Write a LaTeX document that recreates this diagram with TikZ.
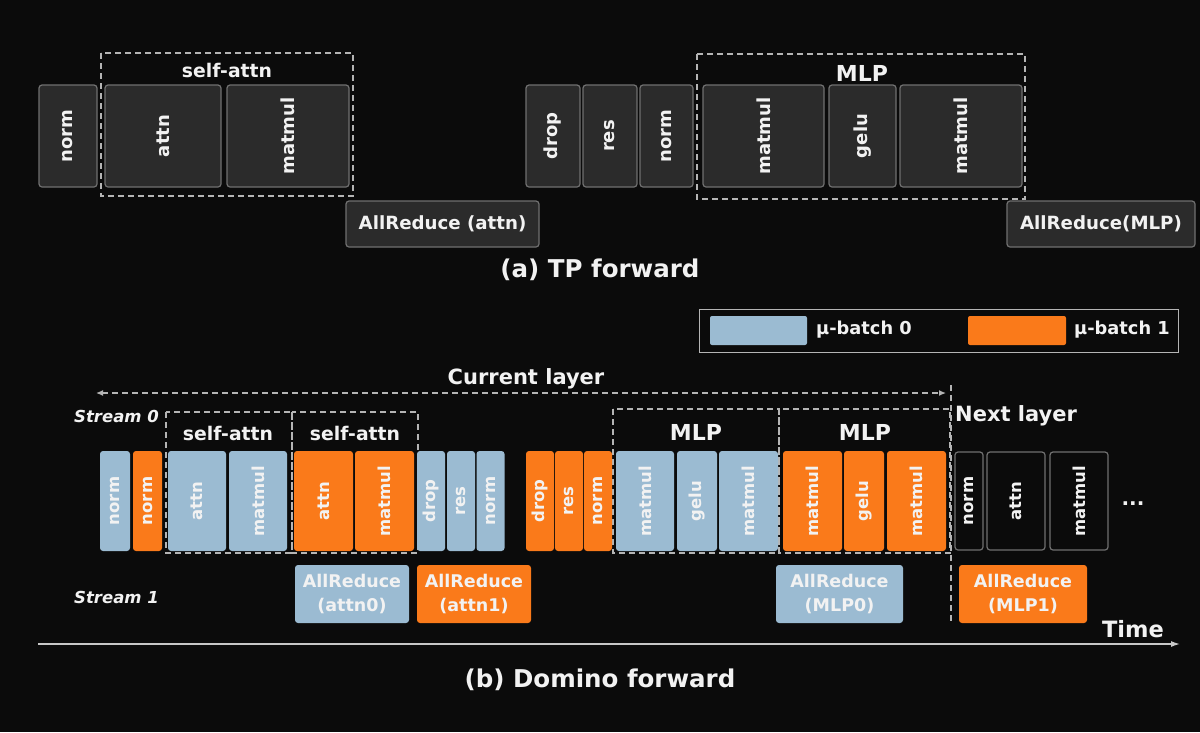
\documentclass[tikz,border=0pt]{standalone}
\usepackage{fontspec}
\setmainfont{DejaVu Sans}
\usetikzlibrary{arrows.meta}
\definecolor{bg}{HTML}{0B0B0B}
\definecolor{boxfill}{HTML}{2B2B2B}
\definecolor{boxline}{HTML}{707070}
\definecolor{mbblue}{RGB}{155,187,210}
\definecolor{mborange}{RGB}{250,122,26}
\definecolor{txt}{HTML}{F2F2F2}
\definecolor{dashc}{HTML}{B5B5B5}
\definecolor{axisc}{HTML}{C8C8C8}

\begin{document}
\begin{tikzpicture}[x=1pt,y=-1pt,
  every node/.style={text=txt},
  op/.style={rounded corners=3pt, inner sep=0pt, rotate=90},
  tpop/.style={op, draw=boxline, fill=boxfill, line width=1.2pt, font=\fontsize{18}{20}\selectfont\bfseries},
  bop/.style={op, fill=mbblue, font=\fontsize{16.5}{18}\selectfont\bfseries},
  oop/.style={op, fill=mborange, font=\fontsize{16.5}{18}\selectfont\bfseries},
  nop/.style={op, draw=boxline, fill=bg, line width=1.2pt, font=\fontsize{16.5}{18}\selectfont\bfseries},
  ar/.style={rounded corners=3pt, inner sep=0pt, align=center, font=\fontsize{17.5}{24}\selectfont\bfseries},
  tpar/.style={ar, draw=boxline, fill=boxfill, line width=1.2pt, font=\fontsize{18.2}{24}\selectfont\bfseries},
  grp/.style={font=\fontsize{18.8}{20}\selectfont\bfseries},
  grpbig/.style={font=\fontsize{22}{24}\selectfont\bfseries},
  title/.style={font=\fontsize{24.5}{26}\selectfont\bfseries},
  stream/.style={anchor=west, inner sep=0pt, font=\fontsize{16.5}{18}\selectfont\bfseries\itshape},
  dbox/.style={draw=dashc, dash pattern=on 6pt off 4pt, line width=1.3pt}]
\fill[bg] (0,0) rectangle (1200,732);
% (a) TP forward
\draw[dbox] (101,53) rectangle (353,196);
\draw[dbox] (697,54) rectangle (1025,199);
\node[grp] (tsa) at (227,70) {self-attn};
\node[grpbig] (tmlp) at (862,73) {MLP};
\node[tpop, minimum width=102pt, minimum height=58pt] (tnorm) at (68,136) {norm};
\node[tpop, minimum width=102pt, minimum height=116pt] (tattn) at (163,136) {attn};
\node[tpop, minimum width=102pt, minimum height=122pt] (tmm) at (288,136) {matmul};
\node[tpop, minimum width=102pt, minimum height=54pt] (tdrop) at (553,136) {drop};
\node[tpop, minimum width=102pt, minimum height=54pt] (tres) at (610,136) {res};
\node[tpop, minimum width=102pt, minimum height=53pt] (tnormb) at (666.5,136) {norm};
\node[tpop, minimum width=102pt, minimum height=121pt] (tmma) at (763.5,136) {matmul};
\node[tpop, minimum width=102pt, minimum height=67pt] (tgelu) at (862.5,136) {gelu};
\node[tpop, minimum width=102pt, minimum height=122pt] (tmmb) at (961,136) {matmul};
\node[tpar, minimum width=193pt, minimum height=46pt] (tarattn) at (442.5,224) {AllReduce (attn)};
\node[tpar, minimum width=188pt, minimum height=46pt] (tarmlp) at (1101,224) {AllReduce(MLP)};
\node[title] (tpcap) at (600,270) {(a) TP forward};
% legend
\node[draw=dashc, line width=1pt, minimum width=479pt, minimum height=43pt, inner sep=0pt] (legend) at (938.5,330.5) {};
\node[fill=mbblue, rounded corners=2pt, minimum width=97pt, minimum height=29pt, inner sep=0pt] (sw0) at (758.5,330.5) {};
\node[fill=mborange, rounded corners=2pt, minimum width=98pt, minimum height=29pt, inner sep=0pt] (sw1) at (1017,330.5) {};
\node[anchor=west, inner sep=0pt, font=\fontsize{17.8}{20}\selectfont\bfseries] (lb0) at (816,330) {μ-batch 0};
\node[anchor=west, inner sep=0pt, font=\fontsize{17.8}{20}\selectfont\bfseries] (lb1) at (1074,330) {μ-batch 1};
% (b) Domino forward
\coordinate (cl0) at (96,393);
\coordinate (cl1) at (946,393);
\draw[dbox, {Latex[length=7pt,width=6pt]}-{Latex[length=7pt,width=6pt]}] (cl0) -- (cl1);
\node[font=\fontsize{21}{22}\selectfont\bfseries] (cur) at (526,379) {Current layer};
\coordinate (nl0) at (951,385);
\coordinate (nl1) at (951,624);
\draw[dbox] (nl0) -- (nl1);
\node[stream] (s0) at (74,416) {Stream 0};
\node[stream] (s1) at (74,597) {Stream 1};
\node[anchor=west, font=\fontsize{21}{22}\selectfont\bfseries, inner sep=0pt] (next) at (955,416) {Next layer};
\draw[dbox] (166,412) rectangle (292,553);
\draw[dbox] (292,412) rectangle (418,553);
\draw[dbox] (613,409) rectangle (779,553);
\draw[dbox] (779,409) rectangle (950,553);
\node[grp] (bsa0) at (228,433) {self-attn};
\node[grp] (bsa1) at (355,433) {self-attn};
\node[grpbig] (bmlp0) at (696,432) {MLP};
\node[grpbig] (bmlp1) at (865,432) {MLP};
\node[bop, minimum width=100pt, minimum height=30pt] (bnorm0) at (115,501) {norm};
\node[oop, minimum width=100pt, minimum height=29pt] (bnorm1) at (147.5,501) {norm};
\node[bop, minimum width=100pt, minimum height=58pt] (battn0) at (197,501) {attn};
\node[bop, minimum width=100pt, minimum height=58pt] (bmm0) at (258,501) {matmul};
\node[oop, minimum width=100pt, minimum height=59pt] (battn1) at (323.5,501) {attn};
\node[oop, minimum width=100pt, minimum height=59pt] (bmm1) at (384.5,501) {matmul};
\node[bop, minimum width=100pt, minimum height=28pt] (bdrop0) at (431,501) {drop};
\node[bop, minimum width=100pt, minimum height=28pt] (bres0) at (461,501) {res};
\node[bop, minimum width=100pt, minimum height=28pt] (bnormb0) at (490.5,501) {norm};
\node[oop, minimum width=100pt, minimum height=28pt] (bdrop1) at (540,501) {drop};
\node[oop, minimum width=100pt, minimum height=28pt] (bres1) at (569,501) {res};
\node[oop, minimum width=100pt, minimum height=28pt] (bnormb1) at (598,501) {norm};
\node[bop, minimum width=100pt, minimum height=58pt] (bmma0) at (645,501) {matmul};
\node[bop, minimum width=100pt, minimum height=40pt] (bgelu0) at (697,501) {gelu};
\node[bop, minimum width=100pt, minimum height=59pt] (bmmb0) at (748.5,501) {matmul};
\node[oop, minimum width=100pt, minimum height=59pt] (bmma1) at (812.5,501) {matmul};
\node[oop, minimum width=100pt, minimum height=40pt] (bgelu1) at (864,501) {gelu};
\node[oop, minimum width=100pt, minimum height=59pt] (bmmb1) at (916.5,501) {matmul};
\node[nop, minimum width=98pt, minimum height=28pt] (nnorm) at (969,501) {norm};
\node[nop, minimum width=98pt, minimum height=58pt] (nattn) at (1016,501) {attn};
\node[nop, minimum width=98pt, minimum height=58pt] (nmm) at (1079,501) {matmul};
\node[font=\fontsize{20}{22}\selectfont\bfseries] (dots) at (1133,504) {...};
\node[ar, fill=mbblue, minimum width=114pt, minimum height=58pt] (arattn0) at (352,594) {AllReduce\\(attn0)};
\node[ar, fill=mborange, minimum width=114pt, minimum height=58pt] (arattn1) at (474,594) {AllReduce\\(attn1)};
\node[ar, fill=mbblue, minimum width=127pt, minimum height=58pt] (armlp0) at (839.5,594) {AllReduce\\(MLP0)};
\node[ar, fill=mborange, minimum width=128pt, minimum height=58pt] (armlp1) at (1023,594) {AllReduce\\(MLP1)};
\node[font=\fontsize{22.5}{24}\selectfont\bfseries] (time) at (1133,629) {Time};
\coordinate (t0) at (38,644);
\coordinate (t1) at (1180,644);
\draw[axisc, line width=1.3pt, -{Latex[length=9pt,width=6pt]}] (t0) -- (t1);
\node[title] (dcap) at (600,680) {(b) Domino forward};
\end{tikzpicture}
\end{document}
